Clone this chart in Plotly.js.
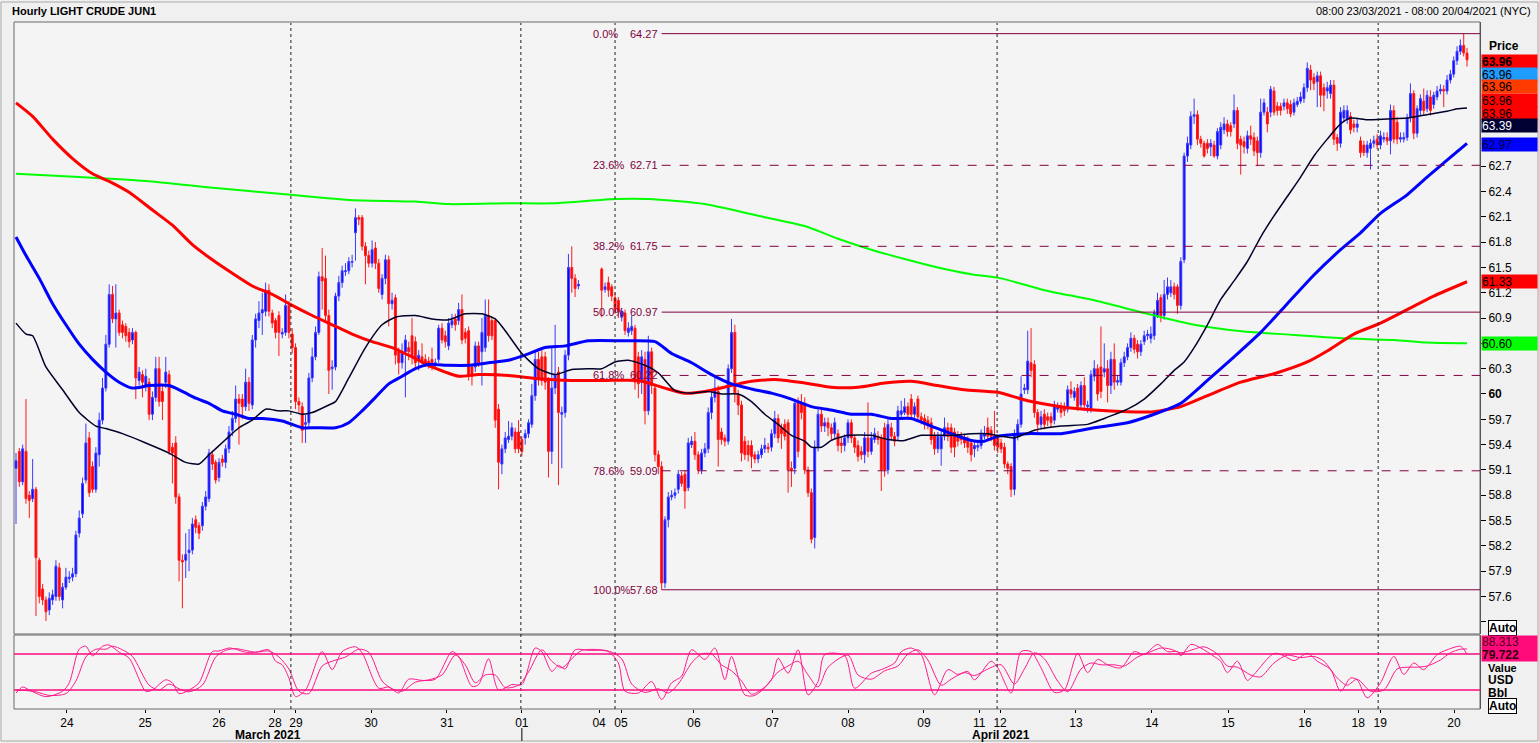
<!DOCTYPE html>
<html><head><meta charset="utf-8">
<script src="https://cdn.plot.ly/plotly-3.0.1.min.js"></script>
<style>html,body{margin:0;padding:0;background:#f0f0f0;overflow:hidden}#chart{width:1539px;height:743px}</style>
</head><body><div id="chart"></div>
<script>
// ---------- DATA ----------
const opens = [
59.12,59.32,58.96,59.32,58.80,58.76,58.87,58.03,57.69,57.56,
57.44,57.56,57.60,57.94,57.56,57.71,57.81,57.83,57.87,58.35,
58.58,58.98,59.48,59.14,58.87,59.28,59.69,60.07,60.59,61.18,
60.89,60.96,60.82,60.80,60.73,60.64,60.73,60.16,60.23,60.10,
60.14,59.76,59.96,60.30,60.03,60.14,60.23,59.37,59.42,58.78,
58.03,58.03,58.12,58.15,58.51,58.44,58.44,58.67,58.76,59.28,
59.19,59.01,59.23,59.19,59.35,59.57,59.71,59.94,59.94,59.85,
60.14,59.87,60.64,60.87,60.96,60.98,61.23,60.96,60.87,60.93,
60.71,60.73,61.05,60.71,60.55,59.91,59.85,59.64,59.66,60.19,
60.44,60.73,61.39,61.37,60.93,60.30,60.32,61.16,61.32,61.45,
61.46,61.56,61.91,62.09,62.09,61.75,61.64,61.55,61.73,61.55,
61.18,61.37,61.59,61.07,61.14,60.50,60.37,60.50,60.55,60.69,
60.62,60.41,60.44,60.41,60.39,60.41,60.35,60.41,60.78,60.69,
60.57,60.82,60.89,60.87,61.00,60.73,60.75,60.32,60.32,60.57,
60.50,60.55,60.93,60.87,60.87,59.82,59.17,59.35,59.46,59.50,
59.55,59.55,59.46,59.48,59.53,59.64,59.98,60.41,60.44,60.44,
60.16,59.32,60.07,60.26,59.76,59.78,60.46,61.50,61.37,61.28,
null,null,null,null,null,null,
61.48,61.24,61.32,61.27,61.14,61.11,60.91,60.96,60.73,60.75,
60.78,60.44,60.14,60.41,59.80,60.50,60.07,59.28,59.14,57.76,
58.51,58.78,58.80,58.87,59.03,59.05,58.89,59.40,59.44,59.28,
59.10,59.30,59.35,59.78,59.96,60.03,59.55,59.48,59.44,60.30,
60.73,60.00,59.87,59.44,59.39,59.39,59.28,59.23,59.28,59.35,
59.37,59.37,59.53,59.71,59.60,59.64,59.66,59.12,59.12,59.91,
59.89,59.89,59.10,58.83,58.30,59.37,59.76,59.62,59.66,59.60,
59.53,59.53,59.42,59.39,59.48,59.66,59.48,59.39,59.32,59.28,
59.48,59.32,59.46,59.50,59.48,59.60,59.10,59.60,59.50,59.50,
59.76,59.78,59.85,59.94,59.76,59.94,59.73,59.71,59.69,59.66,
59.50,59.35,59.35,59.50,59.60,59.60,59.55,59.50,59.50,59.48,
59.46,59.42,59.35,59.37,59.39,59.50,59.60,59.57,59.50,59.48,
59.42,
59.37,59.17,59.14,58.87,59.50,59.64,60.05,60.05,60.37,60.35,
59.78,59.64,59.76,59.73,59.73,59.69,59.82,59.85,59.85,59.82,
60.05,59.96,60.07,59.87,60.10,59.85,59.82,60.21,60.30,60.32,
60.26,60.30,60.10,60.41,60.14,60.14,60.37,60.44,60.55,60.66,
60.59,60.50,60.62,60.69,60.66,60.69,60.93,61.14,60.93,61.18,
61.20,61.27,61.27,61.05,61.59,62.82,62.95,63.29,63.31,63.02,
62.97,62.97,62.93,62.95,62.82,62.95,63.13,63.20,63.18,63.20,
63.36,63.02,62.99,62.91,63.06,63.04,63.00,62.86,63.34,63.34,
63.34,63.59,63.41,63.41,63.41,63.45,63.43,63.34,63.43,63.47,
63.50,63.63,63.84,63.75,63.70,63.77,63.63,63.59,63.56,63.66,
63.04,62.97,63.27,63.25,63.29,63.20,63.16,63.00,62.95,62.86,
62.91,62.97,63.02,62.95,63.02,63.04,63.00,63.36,63.22,63.02,
63.02,63.04,63.27,63.56,63.09,63.36,63.47,63.38,63.52,63.43,
63.52,63.59,63.61,63.59,63.72,63.79,63.95,64.06,64.13,64.04];
const highs = [
59.30,59.36,59.40,59.94,58.85,59.23,58.90,58.06,57.75,57.60,
57.65,57.68,58.03,58.00,57.76,57.94,57.90,57.94,58.38,58.62,
59.01,59.65,59.55,59.20,59.37,59.78,60.19,60.70,61.30,61.28,
61.30,61.00,60.87,60.84,60.78,60.78,60.75,60.32,60.28,60.30,
60.19,60.03,60.44,60.44,60.10,60.44,60.28,59.42,59.50,58.82,
58.10,58.35,58.40,58.53,58.56,58.48,58.72,58.85,59.35,59.33,
59.22,59.24,59.28,59.40,59.62,59.80,60.10,60.00,60.00,60.30,
60.20,60.70,60.95,61.10,61.20,61.32,61.30,61.00,60.90,60.98,
60.78,61.18,61.10,60.78,60.60,59.96,59.90,59.75,60.25,60.55,
60.80,61.45,61.73,61.64,61.00,60.40,61.20,61.40,61.52,61.55,
61.62,61.65,62.20,62.12,62.12,61.80,61.70,61.82,61.80,61.60,
61.42,61.65,61.64,61.20,61.18,60.55,60.60,60.70,60.62,60.90,
60.68,60.52,60.60,60.47,60.44,60.55,60.42,60.82,60.84,60.75,
60.90,60.95,60.95,61.08,61.18,60.78,60.80,60.36,60.62,60.62,
60.90,61.12,61.12,60.92,60.90,59.88,59.40,59.55,59.68,59.66,
59.60,59.69,59.50,59.58,59.70,60.12,60.50,60.50,60.55,60.50,
60.20,60.55,60.82,60.32,59.85,60.52,61.66,61.75,61.42,61.35,
null,null,null,null,null,null,
61.50,61.32,61.39,61.30,61.20,61.15,61.02,61.00,60.85,60.93,
60.82,60.50,60.52,60.50,60.69,60.55,60.12,59.33,59.20,58.55,
58.84,58.86,58.88,59.10,59.08,59.10,59.48,59.50,59.55,59.32,
59.35,59.42,59.84,60.02,60.20,60.10,59.60,59.52,60.35,60.89,
60.82,60.05,59.92,59.50,59.45,59.45,59.32,59.33,59.40,59.48,
59.42,59.58,59.80,59.76,59.65,59.70,59.70,59.20,59.94,59.96,
60.00,59.96,59.14,58.88,59.45,59.82,59.82,59.72,59.72,59.65,
59.72,59.58,59.48,59.52,59.70,59.70,59.52,59.45,59.38,59.55,
59.90,59.55,59.60,59.56,59.52,59.66,59.70,59.66,59.55,59.86,
59.92,59.95,59.90,60.00,59.90,59.98,59.78,59.76,59.74,59.72,
59.55,59.55,59.56,59.72,59.66,59.65,59.60,59.56,59.55,59.53,
59.50,59.46,59.44,59.45,59.58,59.62,59.72,59.62,59.80,59.52,
59.47,
59.42,59.20,59.18,59.58,59.70,60.21,60.12,60.75,60.78,60.40,
59.82,59.80,59.82,59.78,59.78,59.92,59.90,59.90,59.90,60.10,
60.15,60.08,60.12,60.15,60.20,59.92,60.28,60.40,60.35,60.80,
60.60,60.40,60.50,60.60,60.22,60.42,60.50,60.60,60.73,60.70,
60.64,60.64,60.75,60.76,60.80,61.00,61.20,61.18,61.35,61.38,
61.35,61.32,61.30,61.62,62.86,63.05,63.35,63.50,63.36,63.06,
63.00,63.02,63.02,63.00,63.15,63.22,63.28,63.25,63.22,63.55,
63.40,63.06,63.05,63.12,63.18,63.10,63.05,63.50,63.50,63.40,
63.65,63.64,63.46,63.45,63.50,63.50,63.48,63.50,63.52,63.58,
63.68,63.93,63.90,63.80,63.82,63.82,63.68,63.70,63.72,63.72,
63.08,63.40,63.42,63.42,63.34,63.25,63.26,63.05,63.00,63.00,
63.02,63.06,63.08,63.12,63.10,63.10,63.43,63.42,63.28,63.10,
63.10,63.32,63.68,63.60,63.42,63.55,63.62,63.60,63.60,63.58,
63.65,63.67,63.66,63.78,63.84,64.00,64.12,64.20,64.27,64.10];
const lows = [
58.46,58.90,58.92,58.70,58.53,58.72,57.37,57.52,57.50,57.31,
57.38,57.50,57.55,57.55,57.46,57.68,57.76,57.78,57.83,58.30,
58.53,58.94,58.78,58.83,58.83,59.14,59.64,60.03,60.55,60.84,
60.55,60.69,60.66,60.62,60.55,60.59,59.94,60.10,59.96,60.03,
59.69,59.69,59.91,59.85,59.69,60.07,59.28,58.94,58.70,57.78,
57.46,57.82,57.90,58.10,58.35,58.28,58.38,58.62,58.72,59.10,
58.94,58.96,59.14,59.12,59.30,59.50,59.66,59.40,59.70,59.80,
59.80,59.82,60.55,60.78,60.70,60.92,60.92,60.78,60.66,60.45,
60.66,60.69,60.66,60.48,59.82,59.78,59.42,59.42,59.60,60.14,
60.40,60.70,61.00,60.85,60.00,60.05,60.28,61.10,61.26,61.40,
61.42,61.50,61.58,62.00,61.70,61.30,61.50,61.50,61.48,61.20,
61.12,61.30,60.80,61.00,60.35,60.23,60.30,59.96,60.40,60.35,
60.30,60.28,60.35,60.32,60.30,60.28,60.30,60.37,60.60,60.55,
60.52,60.78,60.75,60.82,60.59,60.60,60.16,60.10,60.26,60.32,
60.10,60.50,60.62,60.64,59.60,58.87,59.05,59.30,59.42,59.45,
59.30,59.30,59.26,59.40,59.48,59.60,59.92,60.10,60.10,60.05,
59.01,59.17,60.00,58.92,59.12,59.72,60.40,61.20,61.15,61.24,
null,null,null,null,null,null,
60.91,61.20,61.15,61.10,60.95,60.90,60.86,60.70,60.68,60.70,
60.05,59.95,60.00,59.64,59.75,60.00,59.20,59.05,57.68,57.70,
58.42,58.74,58.76,58.82,58.90,58.64,58.85,59.36,59.22,59.05,
59.05,59.25,59.30,59.70,59.90,59.14,59.40,59.38,59.40,60.25,
59.90,59.75,59.20,59.22,59.20,59.12,59.18,59.18,59.24,59.30,
59.30,59.32,59.48,59.42,59.35,59.45,58.83,58.90,59.05,59.25,
59.70,59.05,58.78,58.23,58.17,59.32,59.55,59.55,59.50,59.45,
59.48,59.32,59.30,59.32,59.42,59.42,59.30,59.20,59.22,59.18,
59.25,59.28,59.42,59.40,58.85,59.02,59.05,59.45,59.38,59.45,
59.72,59.75,59.70,59.70,59.72,59.68,59.64,59.58,59.58,59.40,
59.28,59.30,59.15,59.45,59.44,59.30,59.25,59.38,59.40,59.36,
59.30,59.20,59.25,59.32,59.35,59.46,59.45,59.44,59.33,59.30,
59.30,
59.12,59.05,58.78,58.80,59.45,59.60,60.00,60.00,60.20,59.72,
59.55,59.58,59.58,59.62,59.60,59.64,59.78,59.72,59.74,59.78,
59.95,59.92,59.80,59.82,59.80,59.78,59.78,60.15,59.92,59.95,
60.20,59.90,60.00,60.05,60.10,60.10,60.32,60.40,60.50,60.48,
60.42,60.45,60.58,60.64,60.60,60.64,60.90,60.85,60.88,61.12,
61.15,61.12,60.95,61.00,61.55,62.75,62.90,63.20,62.95,62.92,
62.80,62.85,62.82,62.80,62.78,62.90,63.08,63.05,63.05,63.15,
62.90,62.60,62.85,62.85,62.95,62.82,62.70,62.80,63.30,63.10,
63.28,63.30,63.30,63.30,63.36,63.32,63.28,63.30,63.40,63.44,
63.45,63.58,63.60,63.60,63.40,63.40,63.35,63.50,63.50,62.95,
62.88,62.92,63.22,63.20,63.08,63.10,63.10,62.80,62.82,62.80,
62.66,62.92,62.90,62.90,62.98,62.95,62.84,62.97,62.96,62.98,
62.98,63.00,63.22,63.02,63.04,63.30,63.30,63.34,63.30,63.38,
63.48,63.55,63.40,63.55,63.68,63.75,63.90,64.02,64.00,63.88];
const closes = [
59.21,58.96,59.35,58.76,58.74,58.87,58.06,57.60,57.56,57.42,
57.58,57.62,57.96,57.60,57.71,57.83,57.83,57.87,58.33,58.53,
58.94,59.42,58.83,58.87,59.30,59.69,60.07,60.59,61.18,60.89,
60.96,60.73,60.73,60.69,60.62,60.73,60.19,60.26,60.14,60.21,
59.76,59.96,60.30,59.91,59.91,60.26,59.32,59.30,58.78,58.03,
58.01,58.10,58.15,58.46,58.42,58.35,58.67,58.78,59.30,59.17,
58.98,59.19,59.19,59.35,59.55,59.71,59.94,59.89,59.85,60.14,
59.89,60.64,60.89,60.96,61.00,61.23,60.98,60.84,60.73,60.73,
60.73,61.05,60.73,60.55,59.91,59.87,59.57,59.66,60.19,60.44,
60.73,61.39,61.34,60.93,60.28,60.32,61.16,61.32,61.46,61.46,
61.57,61.57,62.09,62.07,61.75,61.64,61.55,61.71,61.55,61.25,
61.37,61.59,61.07,61.11,60.46,60.37,60.50,60.64,60.50,60.44,
60.37,60.46,60.39,60.37,60.35,60.35,60.37,60.78,60.64,60.62,
60.84,60.87,60.82,61.00,60.64,60.66,60.21,60.21,60.57,60.37,
60.73,60.93,60.69,60.69,59.69,59.19,59.35,59.48,59.50,59.60,
59.35,59.35,59.32,59.53,59.66,59.98,60.41,60.19,60.16,60.14,
59.32,60.07,60.23,59.78,59.78,60.46,61.50,61.37,61.25,61.30,
null,null,null,null,null,null,
61.23,61.27,61.23,61.16,61.00,60.98,60.98,60.75,60.78,60.80,
60.14,60.12,60.44,59.80,60.50,60.10,59.28,59.14,57.76,58.51,
58.78,58.80,58.83,59.05,58.94,58.85,59.42,59.44,59.28,59.10,
59.30,59.35,59.78,59.96,60.07,59.46,59.46,59.44,60.30,60.73,
60.00,59.87,59.30,59.28,59.28,59.26,59.23,59.28,59.35,59.39,
59.35,59.53,59.71,59.48,59.53,59.50,59.10,59.10,59.89,59.32,
59.78,59.10,58.83,58.28,59.37,59.76,59.62,59.66,59.60,59.53,
59.66,59.39,59.39,59.48,59.66,59.48,59.37,59.26,59.28,59.48,
59.32,59.48,59.53,59.46,59.10,59.10,59.64,59.50,59.44,59.80,
59.80,59.85,59.76,59.76,59.85,59.73,59.69,59.64,59.64,59.46,
59.35,59.50,59.50,59.60,59.50,59.37,59.37,59.44,59.46,59.42,
59.37,59.28,59.39,59.39,59.53,59.53,59.50,59.50,59.39,59.37,
59.35,
59.17,59.12,58.87,59.53,59.64,60.00,60.07,60.39,60.28,59.78,
59.64,59.73,59.64,59.69,59.66,59.87,59.85,59.78,59.80,60.05,
60.00,60.03,59.85,60.10,59.87,59.87,60.23,60.30,60.00,60.03,
60.30,60.10,60.41,60.14,60.16,60.37,60.44,60.55,60.66,60.53,
60.50,60.59,60.69,60.71,60.71,60.96,61.11,60.93,61.18,61.27,
61.27,61.18,61.05,61.57,62.82,62.97,63.29,63.31,63.02,62.97,
62.82,62.91,62.97,62.82,63.11,63.16,63.20,63.11,63.11,63.36,
62.97,62.95,62.93,63.06,63.02,62.88,62.86,63.34,63.45,63.20,
63.61,63.34,63.36,63.36,63.45,63.38,63.32,63.45,63.47,63.52,
63.63,63.86,63.72,63.68,63.77,63.54,63.54,63.63,63.66,63.02,
62.97,63.34,63.36,63.36,63.13,63.16,63.20,62.86,62.86,62.95,
62.97,63.00,62.95,63.06,63.04,63.00,63.36,63.02,63.02,63.04,
63.04,63.27,63.56,63.09,63.38,63.50,63.36,63.54,63.36,63.54,
63.59,63.61,63.59,63.72,63.79,63.95,64.06,64.13,64.04,63.96];

// moving averages: bar index / value
const ma20Idx = [0,3,5,9,14,19,24,27,32,39,46,51,55,58,63,67,71,75,79,82,86,89,94,96,100,105,110,114,120,125,130,135,140,144,147,152,157,162,167,172,176,180,184,189,193,198,203,208,212,217,221,225,229,233,237,239,242,245,250,257,262,267,272,277,282,287,292,296,300,306,314,322,327,334,339,344,348,351,354,358,362,366,370,374,378,382,386,390,394,398,401,406,412,418,424,430,433,436];
const ma20Val = [60.84,60.71,60.69,60.32,60.05,59.78,59.62,59.59,59.53,59.42,59.30,59.19,59.17,59.28,59.46,59.60,59.69,59.82,59.80,59.80,59.76,59.78,59.87,59.91,60.19,60.55,60.82,60.91,60.93,60.89,60.88,60.95,60.95,60.89,60.75,60.48,60.30,60.23,60.29,60.30,60.30,60.38,60.40,60.34,60.25,60.04,60.01,60.03,60.00,60.00,59.91,59.76,59.64,59.51,59.44,59.37,59.37,59.45,59.51,59.51,59.46,59.45,59.51,59.51,59.51,59.53,59.53,59.50,59.48,59.57,59.62,59.64,59.71,59.82,59.94,60.12,60.28,60.38,60.55,60.82,61.12,61.34,61.57,61.86,62.11,62.34,62.57,62.82,63.02,63.20,63.27,63.25,63.26,63.27,63.31,63.35,63.38,63.39];
const ma50Idx = [0,3,7,11,15,19,23,27,31,35,40,46,50,54,58,62,66,70,74,80,86,90,96,100,104,108,112,116,120,124,130,136,142,148,153,159,165,172,182,192,197,203,209,215,221,227,233,239,245,251,257,263,269,275,281,287,291,295,304,314,324,334,342,350,358,366,374,382,390,398,404,410,418,424,430,436];
const ma50Val = [61.86,61.64,61.37,61.07,60.82,60.59,60.41,60.26,60.14,60.07,60.10,60.10,60.03,59.95,59.89,59.80,59.76,59.71,59.71,59.68,59.60,59.60,59.60,59.66,59.80,59.96,60.12,60.21,60.30,60.35,60.34,60.34,60.37,60.40,60.46,60.55,60.57,60.63,60.63,60.62,60.48,60.37,60.23,60.12,60.06,60.01,59.94,59.85,59.81,59.76,59.76,59.71,59.71,59.62,59.53,59.45,59.44,59.50,59.53,59.53,59.60,59.66,59.76,59.89,60.16,60.44,60.73,61.07,61.41,61.71,61.91,62.14,62.36,62.57,62.77,62.97];
const ma100Idx = [0,5,11,17,23,28,34,41,47,53,59,65,71,77,83,89,95,101,107,113,119,125,129,133,139,148,157,167,177,187,195,201,207,215,221,229,237,245,253,261,269,277,285,295,304,314,324,334,342,350,358,368,378,388,394,402,410,418,426,436];
const ma100Val = [63.45,63.29,63.02,62.79,62.61,62.52,62.39,62.18,62.00,61.77,61.59,61.43,61.28,61.18,61.05,60.93,60.82,60.71,60.62,60.55,60.44,60.32,60.26,60.21,60.23,60.22,60.18,60.16,60.16,60.16,60.07,60.01,60.03,60.10,60.15,60.17,60.13,60.08,60.08,60.13,60.15,60.10,60.05,60.02,59.92,59.85,59.81,59.79,59.79,59.85,59.98,60.14,60.24,60.38,60.51,60.71,60.84,61.00,61.16,61.33];
const ma200Idx = [0,19,40,60,80,100,120,130,148,162,180,190,207,222,237,247,257,267,277,287,296,309,324,339,354,369,384,399,414,424,436];
const ma200Val = [62.61,62.57,62.52,62.44,62.37,62.30,62.28,62.25,62.26,62.26,62.31,62.31,62.25,62.12,61.99,61.84,61.71,61.60,61.50,61.42,61.37,61.23,61.11,60.96,60.82,60.74,60.70,60.66,60.64,60.61,60.60];

// slow stochastic (%K, %D)
const stochKIdx = [0,2,4,9,14,16,19,21,23,26,28,31,34,39,41,45,47,49,52,55,59,61,64,66,69,72,76,78,80,82,84,87,92,95,98,102,104,109,112,115,118,122,126,131,133,137,139,142,145,149,152,156,158,161,163,165,168,172,178,181,183,187,191,194,197,200,203,207,210,213,215,219,222,227,229,232,235,238,241,243,249,252,257,260,264,266,269,272,276,280,283,286,288,293,295,299,302,305,308,312,315,319,322,325,328,332,336,339,343,346,349,350,353,356,360,362,364,367,370,372,378,381,384,388,391,395,398,401,403,406,410,414,417,420,423,427,430,434,435,436];
const stochKVal = [15,25,20,9,18,32,88,93,77,93,95,83,73,18,20,37,32,14,20,32,84,85,90,88,83,83,87,68,62,40,9,20,84,54,84,92,82,23,25,15,38,36,38,84,76,26,29,72,20,29,29,90,84,51,61,55,87,86,84,65,18,15,34,4,32,43,87,71,90,37,76,12,11,37,73,48,87,12,34,79,77,23,48,54,65,84,90,79,12,54,46,51,37,68,57,15,84,84,57,16,20,81,49,71,62,57,84,79,96,84,84,77,96,90,76,68,49,68,36,46,81,77,69,81,68,54,18,40,37,7,32,76,46,65,54,79,87,93,88,79.722];
const stochDIdx = [0,3,6,10,15,18,21,24,27,29,32,35,40,43,46,49,52,56,60,63,66,69,72,76,79,82,85,88,92,95,99,103,106,110,113,116,120,124,128,132,135,138,141,144,147,151,154,158,161,164,167,170,178,182,185,189,193,196,199,203,206,209,212,215,218,221,225,229,232,235,238,241,244,250,253,257,261,265,268,271,274,278,281,285,288,292,296,300,303,306,309,313,316,320,323,326,330,333,337,341,344,347,350,354,357,361,364,367,371,374,378,382,386,390,393,397,400,403,407,411,415,418,421,424,428,431,434,436];
const stochDVal = [20,19,17,11,14,35,75,88,88,93,87,76,28,20,30,22,17,28,75,86,89,86,83,85,75,55,18,14,60,68,75,88,83,35,22,18,33,37,45,78,62,32,45,45,24,28,50,87,68,57,72,86,85,72,30,16,22,15,30,65,80,80,62,52,35,13,25,50,60,68,45,25,58,78,45,38,52,60,80,87,70,28,38,49,44,55,62,30,55,82,72,35,17,55,65,62,62,60,75,84,90,88,82,88,92,80,60,58,45,42,65,78,74,76,68,40,28,38,18,20,55,58,58,60,70,82,88,88.313];
const stochLevels = [80, 20];

// Fibonacci retracement (57.68 low -> 64.27 high)
const fibPct = ['0.0%','23.6%','38.2%','50.0%','61.8%','78.6%','100.0%'];
const fibVal = [64.27,62.71,61.75,60.97,60.22,59.09,57.68];
const fibStartBar = 194;

// x-axis labels (bar index of each day start) and session separators
const dayTickIdx = [15.3,38.8,61.0,77.8,84.1,106.7,129.5,152.0,175.2,181.8,203.7,227.2,250.0,272.8,289.4,295.7,318.5,341.3,364.2,387.3,403.3,409.9,432.1];
const dayTickText = ['24','25','26','28','29','30','31','01','04','05','06','07','08','09','11','12','13','14','15','16','18','19','20'];
const weekSepIdx = [82.6,151.7,180.0,294.8,409.3];
const monthLabels = ['March 2021','April 2021'];
const monthLabelIdx = [75.7,296];

const priceTicks = [57.3,57.6,57.9,58.2,58.5,58.8,59.1,59.4,59.7,60,60.3,60.6,60.9,61.2,61.5,61.8,62.1,62.4,62.7];

// right-hand value tags
const tagText = ['63.96','63.96','63.96','63.96','63.96','63.39','62.97','61.33','60.60'];

// ---------- BUILD ----------
const W = 1539, H = 743;
const px = v => v / W, py = v => (H - v) / H;
const FONT = 'Liberation Sans, Arial, sans-serif';
const X0 = 14, X1 = 1480;

const cx=[],co=[],ch=[],cl=[],cc=[];
closes.forEach((c,i)=>{ if(c!==null){cx.push(i);co.push(opens[i]);ch.push(highs[i]);cl.push(lows[i]);cc.push(c);} });

const traces = [
  {type:'candlestick', x:cx, open:co, high:ch, low:cl, close:cc, xaxis:'x', yaxis:'y',
   increasing:{line:{color:'#3a3aff',width:1}, fillcolor:'#0000ff'},
   decreasing:{line:{color:'#ff1a1a',width:1}, fillcolor:'#ff0000'},
   whiskerwidth:0, hoverinfo:'skip', showlegend:false},
  {type:'scatter', mode:'lines', x:ma200Idx, y:ma200Val, line:{color:'#00ff00',width:2,shape:'spline',smoothing:0.6}, hoverinfo:'skip'},
  {type:'scatter', mode:'lines', x:ma100Idx, y:ma100Val, line:{color:'#ff0000',width:3,shape:'spline',smoothing:0.6}, hoverinfo:'skip'},
  {type:'scatter', mode:'lines', x:ma50Idx, y:ma50Val, line:{color:'#0000ff',width:3,shape:'spline',smoothing:0.6}, hoverinfo:'skip'},
  {type:'scatter', mode:'lines', x:ma20Idx, y:ma20Val, line:{color:'#00002a',width:1.5,shape:'spline',smoothing:0.6}, hoverinfo:'skip'},
  {type:'scatter', mode:'lines', x:stochDIdx, y:stochDVal, xaxis:'x', yaxis:'y2', line:{color:'#ff1a8c',width:1,shape:'spline',smoothing:0.8}, hoverinfo:'skip'},
  {type:'scatter', mode:'lines', x:stochKIdx, y:stochKVal, xaxis:'x', yaxis:'y2', line:{color:'#ff1a8c',width:1,shape:'spline',smoothing:0.8}, hoverinfo:'skip'}
];

const shapes = [];
shapes.push({type:'rect',xref:'paper',yref:'paper',x0:px(X0),x1:px(X1),y0:py(634),y1:py(22),line:{color:'#6a6a6a',width:1},layer:'above'});
shapes.push({type:'rect',xref:'paper',yref:'paper',x0:px(X0),x1:px(X1),y0:py(709),y1:py(635),line:{color:'#6a6a6a',width:1},layer:'above'});
shapes.push({type:'rect',xref:'paper',yref:'paper',x0:px(1),x1:px(1538),y0:py(741),y1:py(2),line:{color:'#a8a8a8',width:1},layer:'below'});
weekSepIdx.forEach(v=>shapes.push({type:'line',xref:'x',yref:'paper',x0:v,x1:v,y0:py(709),y1:py(23),line:{color:'#222',width:1,dash:'dot'}}));
shapes.push({type:'line',xref:'x',yref:'paper',x0:dayTickIdx[7],x1:dayTickIdx[7],y0:py(741),y1:py(728),line:{color:'#000',width:1}});
fibVal.forEach((v,i)=>{
  const solid = (fibPct[i]==='0.0%'||fibPct[i]==='50.0%'||fibPct[i]==='100.0%');
  shapes.push({type:'line',xref:'x',yref:'y',x0:fibStartBar,x1:439.9,y0:v,y1:v,line:{color:'#800040',width:1,dash:solid?'solid':'dash'}});
});
stochLevels.forEach(v=>shapes.push({type:'line',xref:'paper',yref:'y2',x0:px(X0),x1:px(X1),y0:v,y1:v,line:{color:'#ff0a80',width:1.5}}));

const ann = [];
ann.push({xref:'paper',yref:'paper',x:px(10),y:py(11),xanchor:'left',yanchor:'middle',showarrow:false,text:'<b>Hourly LIGHT CRUDE JUN1</b>',font:{family:FONT,size:11,color:'#000'}});
ann.push({xref:'paper',yref:'paper',x:px(1533),y:py(11),xanchor:'right',yanchor:'middle',showarrow:false,text:'08:00 23/03/2021 - 08:00 20/04/2021 (NYC)',font:{family:FONT,size:11,color:'#000'}});
fibVal.forEach((v,i)=>{
  ann.push({xref:'paper',yref:'y',x:px(591),y:v,xanchor:'left',yanchor:'middle',showarrow:false,text:fibPct[i],font:{family:FONT,size:11,color:'#800040'}});
  ann.push({xref:'paper',yref:'y',x:px(660),y:v,xanchor:'right',yanchor:'middle',showarrow:false,text:v.toFixed(2),font:{family:FONT,size:11,color:'#800040'}});
});
ann.push({xref:'paper',yref:'paper',x:px(1487),y:py(46),xanchor:'left',yanchor:'middle',showarrow:false,text:'<b>Price</b>',font:{family:FONT,size:12,color:'#000'}});
const tagStyle = [
  {y:61,bg:'#ff0000',fg:'#000',b:true},{y:74,bg:'#1e9cff',fg:'#000'},{y:87,bg:'#ff3c00',fg:'#000'},
  {y:100,bg:'#ff0000',fg:'#000'},{y:113,bg:'#ff0000',fg:'#000'},{y:126,bg:'#000033',fg:'#fff'},
  {y:144,bg:'#0000ff',fg:'#000033'},{y:281,bg:'#ff0000',fg:'#000'},{y:343,bg:'#00ff00',fg:'#000'}];
tagText.forEach((t,i)=>{
  const s=tagStyle[i];
  ann.push({xref:'paper',yref:'paper',x:px(1481),y:py(s.y),xanchor:'left',yanchor:'middle',showarrow:false,
    text:s.b?'<b>'+t+'</b>':t,bgcolor:s.bg,width:55,height:13,align:'left',borderpad:0,font:{family:FONT,size:12,color:s.fg}});
});
function boxLabel(t,y){ann.push({xref:'paper',yref:'paper',x:px(1488),y:py(y),xanchor:'left',yanchor:'middle',showarrow:false,text:'<b>'+t+'</b>',bgcolor:'#ffffff',bordercolor:'#000',borderwidth:1,borderpad:0,font:{family:FONT,size:12,color:'#000'}});}
boxLabel('Auto',628);
ann.push({xref:'paper',yref:'paper',x:px(1486),y:py(668),xanchor:'left',yanchor:'middle',showarrow:false,text:'<b>Value</b>',font:{family:FONT,size:11,color:'#000'}});
ann.push({xref:'paper',yref:'paper',x:px(1481),y:py(642),xanchor:'left',yanchor:'middle',showarrow:false,text:stochDVal[stochDVal.length-1].toFixed(3),bgcolor:'#ff0a78',width:55,height:12,align:'left',borderpad:0,font:{family:FONT,size:12,color:'#500020'}});
ann.push({xref:'paper',yref:'paper',x:px(1481),y:py(654),xanchor:'left',yanchor:'middle',showarrow:false,text:'<b>'+stochKVal[stochKVal.length-1].toFixed(3)+'</b>',bgcolor:'#ff0a78',width:55,height:13,align:'left',borderpad:0,font:{family:FONT,size:12,color:'#300010'}});
ann.push({xref:'paper',yref:'paper',x:px(1486),y:py(680),xanchor:'left',yanchor:'middle',showarrow:false,text:'<b>USD</b>',font:{family:FONT,size:12,color:'#000'}});
ann.push({xref:'paper',yref:'paper',x:px(1486),y:py(693),xanchor:'left',yanchor:'middle',showarrow:false,text:'<b>Bbl</b>',font:{family:FONT,size:12,color:'#000'}});
boxLabel('Auto',706);
monthLabels.forEach((m,i)=>ann.push({xref:'x',yref:'paper',x:monthLabelIdx[i],y:py(735),xanchor:'center',yanchor:'middle',showarrow:false,text:'<b>'+m+'</b>',font:{family:FONT,size:12,color:'#000'}}));

const layout = {
  width:W, height:H, margin:{l:0,r:0,t:0,b:0},
  paper_bgcolor:'#f0f0f0', plot_bgcolor:'#f4f4f4', showlegend:false,
  font:{family:FONT,size:12,color:'#000'}, boxgap:0.18,
  xaxis:{domain:[px(X0),px(X1)], range:[-0.6,439.9], anchor:'y2', showgrid:false, zeroline:false,
    tickmode:'array', tickvals:dayTickIdx, ticktext:dayTickText, ticks:'outside', ticklen:3, tickcolor:'#000',
    tickfont:{family:FONT,size:12,color:'#000'}, showline:false, rangeslider:{visible:false}, fixedrange:true},
  yaxis:{domain:[py(634),py(22)], range:[57.156,64.408], side:'right', anchor:'x', showgrid:false, zeroline:false,
    tickmode:'array', tickvals:priceTicks, ticktext:priceTicks.map(v=>(v===57.3||v===60.6)?'':(v===60?'<b>60</b>':v.toFixed(1))),
    ticks:'outside', ticklen:5, tickcolor:'#000', tickfont:{family:FONT,size:12,color:'#000'},
    showline:true, linecolor:'#404040', linewidth:1, fixedrange:true},
  yaxis2:{domain:[py(709),py(635)], range:[-11.7,111.7], anchor:'x', side:'right', showgrid:false, zeroline:false,
    showticklabels:false, ticks:'', showline:true, linecolor:'#404040', fixedrange:true},
  shapes:shapes, annotations:ann
};
Plotly.newPlot('chart', traces, layout, {staticPlot:true, displayModeBar:false});
</script></body></html>
